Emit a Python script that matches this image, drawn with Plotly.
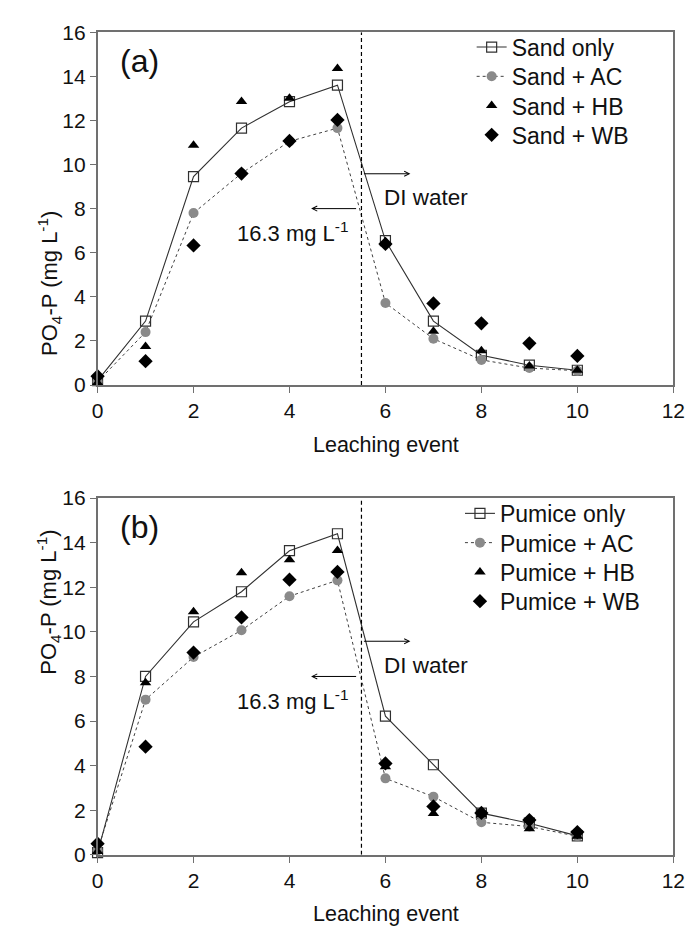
import plotly.graph_objects as go

W, H = 697, 939

events = [0, 1, 2, 3, 4, 5, 6, 7, 8, 9, 10]

# Panel (a): sand
sand_only = [0.2, 2.9, 9.45, 11.65, 12.85, 13.6, 6.55, 2.9, 1.35, 0.9, 0.67]
sand_ac = [0.15, 2.4, 7.8, 9.6, 11.05, 11.65, 3.72, 2.1, 1.14, 0.77, 0.65]
sand_hb = [0.1, 1.75, 10.87, 12.86, 13.0, 14.35, 6.45, 2.44, 1.56, 0.86, 0.67]
sand_wb = [0.4, 1.08, 6.33, 9.59, 11.07, 12.02, 6.4, 3.7, 2.8, 1.89, 1.32]

# Panel (b): pumice
pumice_only = [0.1, 8.0, 10.45, 11.8, 13.64, 14.4, 6.22, 4.04, 1.87, 1.42, 0.85]
pumice_ac = [0.2, 6.96, 8.87, 10.07, 11.6, 12.31, 3.43, 2.61, 1.46, 1.27, 0.83]
pumice_hb = [0.15, 7.72, 10.9, 12.65, 13.23, 13.65, 3.95, 1.85, 1.8, 1.17, 0.83]
pumice_wb = [0.5, 4.85, 9.07, 10.65, 12.34, 12.69, 4.1, 2.17, 1.88, 1.56, 1.02]

names_a = ["Sand only", "Sand + AC", "Sand + HB", "Sand + WB"]
names_b = ["Pumice only", "Pumice + AC", "Pumice + HB", "Pumice + WB"]

x_ticks = [0, 2, 4, 6, 8, 10, 12]
y_ticks = [0, 2, 4, 6, 8, 10, 12, 14, 16]
switch_event = 5.5

FONT = "Liberation Sans, Arial, sans-serif"
AXC = "#707070"
TXT = "#111"

def px2fx(px):
    return px / W

def px2fy(py):
    return 1 - py / H

fig = go.Figure()

def add_panel(series, names, xa, ya, legends):
    only, ac, hb, wb = series
    fig.add_trace(go.Scatter(
        x=events, y=only, name=names[0], mode="lines+markers", xaxis=xa, yaxis=ya,
        line=dict(color="#303030", width=1.1),
        marker=dict(symbol="square-open", size=10, color="#303030", line=dict(width=1.2)),
        cliponaxis=False, legend=legends[0], showlegend=True))
    fig.add_trace(go.Scatter(
        x=events, y=ac, name=names[1], mode="lines+markers", xaxis=xa, yaxis=ya,
        line=dict(color="#404040", width=1, dash="dot"),
        marker=dict(symbol="circle", size=10, color="#8a8a8a"),
        cliponaxis=False, legend=legends[1], showlegend=True))
    fig.add_trace(go.Scatter(
        x=events, y=hb, name=names[2], mode="markers", xaxis=xa, yaxis=ya,
        marker=dict(symbol="triangle-up", size=10, color="black"),
        cliponaxis=False, legend=legends[2], showlegend=True))
    fig.add_trace(go.Scatter(
        x=events, y=wb, name=names[3], mode="markers", xaxis=xa, yaxis=ya,
        marker=dict(symbol="diamond", size=11, color="black"),
        cliponaxis=False, legend=legends[3], showlegend=True))

legs_a = ["legend", "legend2", "legend3", "legend4"]
legs_b = ["legend5", "legend6", "legend7", "legend8"]
add_panel((sand_only, sand_ac, sand_hb, sand_wb), names_a, "x", "y", legs_a)
add_panel((pumice_only, pumice_ac, pumice_hb, pumice_wb), names_b, "x2", "y2", legs_b)

xdom = [px2fx(94), px2fx(685)]
ax_common = dict(
    showline=True, linecolor=AXC, linewidth=1.5, mirror=True,
    ticks="outside", ticklen=6, tickcolor=AXC, tickwidth=1.2,
    showgrid=False, zeroline=False,
    tickfont=dict(family=FONT, size=21, color=TXT),
)

layout = dict(
    width=W, height=H, showlegend=True,
    margin=dict(l=0, r=0, t=0, b=0),
    paper_bgcolor="white", plot_bgcolor="white",
    font=dict(family=FONT, color=TXT),
    xaxis=dict(domain=xdom, range=[0, 12], tickvals=x_ticks, anchor="y", **ax_common),
    yaxis=dict(domain=[px2fy(382.4), px2fy(20.7)], range=[0, 16], tickvals=y_ticks, anchor="x", **ax_common),
    xaxis2=dict(domain=xdom, range=[0, 12], tickvals=x_ticks, anchor="y2", **ax_common),
    yaxis2=dict(domain=[px2fy(864), px2fy(498.3)], range=[0, 16], tickvals=y_ticks, anchor="x2", **ax_common),
)

rows_a = [36, 66, 96, 126]
rows_b = [514, 544, 574, 604]
for legs, rows, lx in ((legs_a, rows_a, 478), (legs_b, rows_b, 466)):
    for lg, ry in zip(legs, rows):
        layout[lg] = dict(x=px2fx(lx), y=px2fy(ry), xanchor="left", yanchor="middle",
                          font=dict(family=FONT, size=23, color=TXT), bgcolor="rgba(0,0,0,0)",
                          itemwidth=30, borderwidth=0, visible=True)
fig.update_layout(**layout)

shapes = []
annotations = []
for xa, ya, label, top_px, bot_px in (("x", "y", "(a)", 20.7, 382.4), ("x2", "y2", "(b)", 498.3, 864)):
    shapes.append(dict(type="line", xref=xa, yref=ya, x0=switch_event, x1=switch_event, y0=0, y1=16,
                       line=dict(color="black", width=1.2, dash="4px,3px")))
    annotations += [
        dict(xref=xa, yref=ya, x=0.88, y=14.7, text=label, showarrow=False,
             font=dict(family=FONT, size=32, color=TXT)),
        dict(xref=xa, yref=ya, x=6.52, y=9.58, ax=5.52, ay=9.58, axref=xa, ayref=ya,
             text="", showarrow=True, arrowhead=5, arrowsize=1, arrowwidth=1, arrowcolor="black"),
        dict(xref=xa, yref=ya, x=4.45, y=8.0, ax=5.42, ay=8.0, axref=xa, ayref=ya,
             text="", showarrow=True, arrowhead=5, arrowsize=1, arrowwidth=1, arrowcolor="black"),
        dict(xref=xa, yref=ya, x=6.84, y=8.5, text="DI water", showarrow=False,
             font=dict(family=FONT, size=22.5, color=TXT)),
        dict(xref=xa, yref=ya, x=4.08, y=6.95, text="16.3 mg L<sup>-1</sup>", showarrow=False,
             font=dict(family=FONT, size=22, color=TXT)),
        dict(xref="paper", yref="paper", x=px2fx(26), y=px2fy((top_px + bot_px) / 2),
             text="PO<sub>4</sub>-P (mg L<sup>-1</sup>)", textangle=-90, showarrow=False,
             font=dict(family=FONT, size=22, color=TXT)),
    ]

annotations += [
    dict(xref="paper", yref="paper", x=px2fx(390), y=px2fy(382.4 + 61), text="Leaching event",
         showarrow=False, font=dict(family=FONT, size=21.5, color=TXT)),
    dict(xref="paper", yref="paper", x=px2fx(390), y=0, yanchor="bottom", text="Leaching event",
         showarrow=False, font=dict(family=FONT, size=21.5, color=TXT)),
]

fig.update_layout(shapes=shapes, annotations=annotations)
fig.write_html("out.html")
